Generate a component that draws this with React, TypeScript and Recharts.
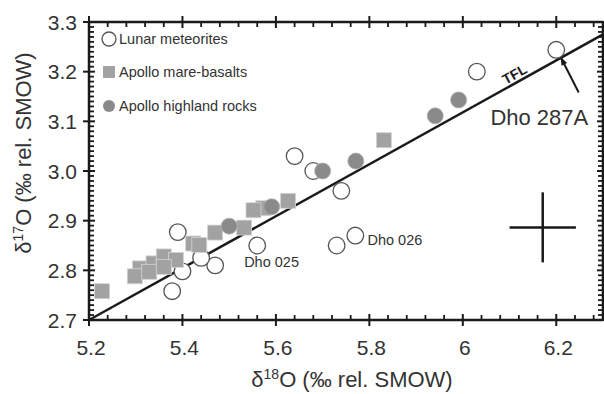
import React from 'react'
import { ScatterChart, Scatter, XAxis, YAxis, ReferenceLine, Legend } from 'recharts'

const FONT = '"Liberation Sans", Arial, Helvetica, sans-serif'
const INK = '#1a1a1a'
const TEXT = '#333'

// δ18O, δ17O readings
const lunarMeteorites = [
  { x: 6.2, y: 3.244 }, { x: 6.03, y: 3.2 }, { x: 5.64, y: 3.03 }, { x: 5.68, y: 3.0 },
  { x: 5.74, y: 2.96 }, { x: 5.73, y: 2.85 }, { x: 5.77, y: 2.87 }, { x: 5.56, y: 2.85 },
  { x: 5.47, y: 2.81 }, { x: 5.44, y: 2.825 }, { x: 5.39, y: 2.877 }, { x: 5.40, y: 2.798 },
  { x: 5.378, y: 2.758 },
]

const marebasalts = [
  { x: 5.228, y: 2.758 }, { x: 5.309, y: 2.804 }, { x: 5.298, y: 2.788 }, { x: 5.338, y: 2.814 },
  { x: 5.329, y: 2.797 }, { x: 5.36, y: 2.828 }, { x: 5.386, y: 2.821 }, { x: 5.36, y: 2.807 },
  { x: 5.423, y: 2.854 }, { x: 5.436, y: 2.851 }, { x: 5.47, y: 2.876 }, { x: 5.532, y: 2.886 },
  { x: 5.573, y: 2.925 }, { x: 5.552, y: 2.921 }, { x: 5.626, y: 2.94 }, { x: 5.831, y: 3.062 },
]

const highlandRocks = [
  { x: 5.5, y: 2.889 }, { x: 5.591, y: 2.928 }, { x: 5.7, y: 3.0 },
  { x: 5.771, y: 3.02 }, { x: 5.941, y: 3.111 }, { x: 5.991, y: 3.143 },
]

const annotations = [
  { x: 5.532, y: 2.817, text: 'Dho 025', size: 14.5 },
  { x: 5.796, y: 2.862, text: 'Dho 026', size: 14.5 },
  { x: 6.059, y: 3.108, text: 'Dho 287A', size: 22 },
]

const tflLine = [{ x: 5.2, y: 2.7 }, { x: 6.3, y: 3.275 }]
const tflLabel = [{ x: 6.111, y: 3.195 }]
const dho287Arrow = [{ x: 6.248, y: 3.158 }, { x: 6.209, y: 3.23 }]
const errHoriz = [{ x: 6.1, y: 2.886 }, { x: 6.242, y: 2.886 }]
const errVert = [{ x: 6.171, y: 2.816 }, { x: 6.171, y: 2.957 }]

const X_DOMAIN = [5.2, 6.3]
const Y_DOMAIN = [2.7, 3.3]
const X_TICKS = [5.2, 5.4, 5.6, 5.8, 6, 6.2]
const Y_TICKS = [2.7, 2.8, 2.9, 3.0, 3.1, 3.2, 3.3]
const X_MINOR = Array.from({ length: 28 }, (_, i) => +(5.2 + i * 0.04).toFixed(2))
const Y_MINOR = Array.from({ length: 61 }, (_, i) => +(2.7 + i * 0.01).toFixed(2))

const W = 604
const H = 394
const LEFT = 89
const TOP = 22
const RIGHT = 1
const BOTTOM = 74
const PLOT_W = W - LEFT - RIGHT
const PLOT_H = H - TOP - BOTTOM

const isMajor = (ticks: number[], v: number) => ticks.some((t) => Math.abs(t - v) < 1e-6)

function XTick({ x, y, payload }: any) {
  const v = payload.value
  const top = y - PLOT_H
  if (isMajor(X_TICKS, v)) {
    return (
      <g stroke={INK} strokeWidth={2}>
        <line x1={x} x2={x} y1={y - 6} y2={y + 6} />
        <line x1={x} x2={x} y1={top - 6} y2={top + 6} />
        <text x={x + 2} y={y + 35} textAnchor="middle" fontSize={21} fontFamily={FONT} fill={TEXT} stroke="none">
          {String(+v.toFixed(1))}
        </text>
      </g>
    )
  }
  return (
    <g stroke={INK} strokeWidth={1.8}>
      <line x1={x} x2={x} y1={y - 5} y2={y} />
      <line x1={x} x2={x} y1={top} y2={top + 5} />
    </g>
  )
}

function YTick({ x, y, payload }: any) {
  const v = payload.value
  const right = x + PLOT_W
  if (isMajor(Y_TICKS, v)) {
    return (
      <g stroke={INK} strokeWidth={2}>
        <line x1={x - 6} x2={x + 6} y1={y} y2={y} />
        <line x1={right - 6} x2={right + 6} y1={y} y2={y} />
        <text x={x - 12} y={y} dy="0.36em" textAnchor="end" fontSize={21} fontFamily={FONT} fill={TEXT} stroke="none">
          {v.toFixed(1)}
        </text>
      </g>
    )
  }
  return (
    <g stroke={INK} strokeWidth={1.8}>
      <line x1={x} x2={x + 5} y1={y} y2={y} />
      <line x1={right - 5} x2={right} y1={y} y2={y} />
    </g>
  )
}

const OpenCircle = ({ cx, cy }: any) => (
  <circle cx={cx} cy={cy} r={8.3} fill="#fff" stroke="#555" strokeWidth={1.3} />
)
const GraySquare = ({ cx, cy }: any) => (
  <rect x={cx - 7.5} y={cy - 7.5} width={15} height={15} fill="#a2a2a2" stroke="#d4d4d4" strokeWidth={0.8} />
)
const GrayDot = ({ cx, cy }: any) => (
  <circle cx={cx} cy={cy} r={8} fill="#8a8a8a" stroke="#b0b0b0" strokeWidth={0.8} />
)

const AnnotationText = ({ cx, cy, payload }: any) => (
  <text x={cx} y={cy} dy="0.35em" fontSize={payload.size} fontFamily={FONT} fill={TEXT}>
    {payload.text}
  </text>
)

const TflText = ({ cx, cy }: any) => (
  <text
    x={cx}
    y={cy}
    dy="0.35em"
    textAnchor="middle"
    transform={`rotate(-29 ${cx} ${cy})`}
    fontSize={14}
    fontWeight="bold"
    fontFamily={FONT}
    fill={INK}
  >
    TFL
  </text>
)

function ArrowShape({ x1, y1, x2, y2 }: any) {
  const ang = Math.atan2(y2 - y1, x2 - x1)
  const len = 9
  const spread = 0.35
  const p1 = [x2 - len * Math.cos(ang - spread), y2 - len * Math.sin(ang - spread)]
  const p2 = [x2 - len * Math.cos(ang + spread), y2 - len * Math.sin(ang + spread)]
  return (
    <g>
      <line x1={x1} y1={y1} x2={x2} y2={y2} stroke={INK} strokeWidth={2} />
      <polygon points={`${x2},${y2} ${p1[0]},${p1[1]} ${p2[0]},${p2[1]}`} fill={INK} />
    </g>
  )
}

const legendItems = [
  { name: 'Lunar meteorites', kind: 'open' },
  { name: 'Apollo mare-basalts', kind: 'square' },
  { name: 'Apollo highland rocks', kind: 'dot' },
]

function LegendBox() {
  return (
    <div style={{ fontFamily: FONT, fontSize: 14.5, color: TEXT }}>
      {legendItems.map((it) => (
        <div key={it.name} style={{ display: 'flex', alignItems: 'center', height: 33.5 }}>
          <svg width={18} height={18} style={{ marginRight: 1 }}>
            {it.kind === 'open' && <circle cx={9} cy={9} r={7} fill="#fff" stroke="#555" strokeWidth={1.3} />}
            {it.kind === 'square' && <rect x={3} y={3} width={12} height={12} fill="#a2a2a2" />}
            {it.kind === 'dot' && <circle cx={9} cy={9} r={6} fill="#8a8a8a" />}
          </svg>
          <span>{it.name}</span>
        </div>
      ))}
    </div>
  )
}

export default function App() {
  return (
    <div style={{ position: 'absolute', left: 0, top: 0, background: '#fff' }}>
      <ScatterChart width={W} height={H} margin={{ top: TOP, right: RIGHT, bottom: 0, left: 0 }}>
        <XAxis
          type="number"
          dataKey="x"
          domain={X_DOMAIN}
          ticks={X_MINOR}
          interval={0}
          allowDataOverflow
          height={BOTTOM}
          tickSize={0}
          tickMargin={0}
          tickLine={false}
          tick={<XTick />}
          axisLine={{ stroke: INK, strokeWidth: 2.5 }}
          label={{
            content: () => (
              <text x={352} y={387} textAnchor="middle" fontSize={22} fontFamily={FONT} fill={TEXT}>
                δ<tspan dy={-8} fontSize={14}>18</tspan>
                <tspan dy={8}>O (‰ rel. SMOW)</tspan>
              </text>
            ),
          }}
        />
        <YAxis
          type="number"
          dataKey="y"
          domain={Y_DOMAIN}
          ticks={Y_MINOR}
          interval={0}
          allowDataOverflow
          width={LEFT}
          tickSize={0}
          tickMargin={0}
          tickLine={false}
          tick={<YTick />}
          axisLine={{ stroke: INK, strokeWidth: 2.5 }}
          label={{
            content: () => (
              <text
                x={31}
                y={153}
                textAnchor="middle"
                transform="rotate(-90 31 153)"
                fontSize={22}
                fontFamily={FONT}
                fill={TEXT}
              >
                δ<tspan dy={-8} fontSize={14}>17</tspan>
                <tspan dy={8}>O (‰ rel. SMOW)</tspan>
              </text>
            ),
          }}
        />
        <ReferenceLine y={Y_DOMAIN[1]} stroke={INK} strokeWidth={2.5} />
        <ReferenceLine x={X_DOMAIN[1]} stroke={INK} strokeWidth={2.5} />
        <ReferenceLine segment={tflLine} stroke={INK} strokeWidth={2.5} />
        <ReferenceLine segment={errHoriz} stroke={INK} strokeWidth={2.5} />
        <ReferenceLine segment={errVert} stroke={INK} strokeWidth={2.5} />
        <ReferenceLine segment={dho287Arrow} shape={<ArrowShape />} />
        <Legend
          layout="horizontal"
          verticalAlign="middle"
          align="center"
          content={<LegendBox />}
          wrapperStyle={{ left: 100, top: 22, width: 'auto' }}
        />
        <Scatter name="Lunar meteorites" data={lunarMeteorites} shape={<OpenCircle />} isAnimationActive={false} />
        <Scatter name="Apollo mare-basalts" data={marebasalts} shape={<GraySquare />} isAnimationActive={false} />
        <Scatter name="Apollo highland rocks" data={highlandRocks} shape={<GrayDot />} isAnimationActive={false} />
        <Scatter name="labels" data={annotations} shape={<AnnotationText />} isAnimationActive={false} legendType="none" />
        <Scatter name="tfl" data={tflLabel} shape={<TflText />} isAnimationActive={false} legendType="none" />
      </ScatterChart>
    </div>
  )
}
